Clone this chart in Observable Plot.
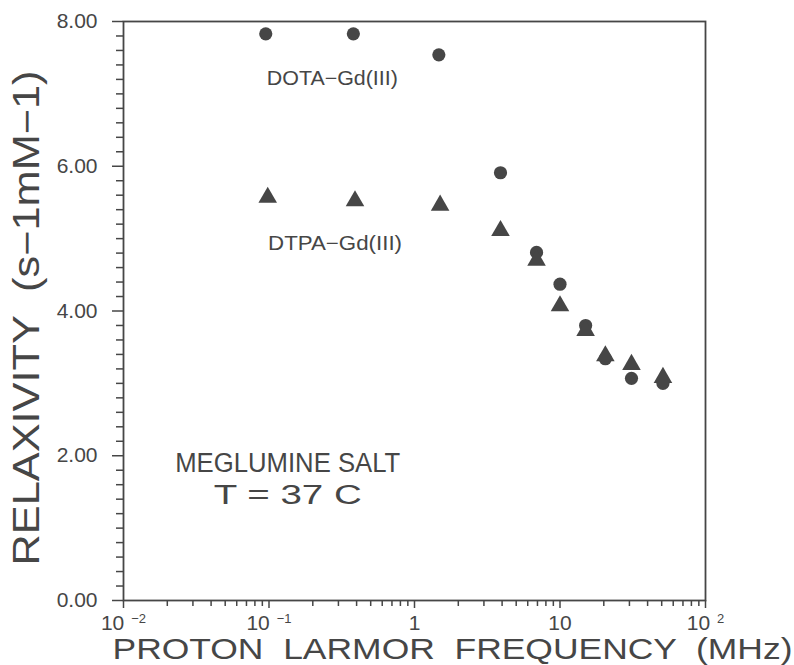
<!DOCTYPE html>
<html><head><meta charset="utf-8">
<script src="https://cdn.jsdelivr.net/npm/d3@7"></script>
<script src="https://cdn.jsdelivr.net/npm/@observablehq/plot@0.6"></script>
<style>body{margin:0;background:#fff}</style>
</head><body><div id="chart"></div>
<script>
// ---- data ----
const freqDOTA  = [0.095, 0.38, 1.47, 3.9, 6.9, 10, 15, 20.5, 31, 51];
const relaxDOTA = [7.83, 7.83, 7.54, 5.91, 4.81, 4.37, 3.80, 3.34, 3.07, 3.00];
const freqDTPA  = [0.098, 0.39, 1.50, 3.9, 6.9, 10, 15, 20.5, 31, 51];
const relaxDTPA = [5.57, 5.52, 5.46, 5.11, 4.70, 4.07, 3.73, 3.38, 3.26, 3.08];

const compoundLabels = ["DOTA−Gd(III)", "DTPA−Gd(III)"];
const compoundLabelX = [0.0966, 0.0985];
const compoundLabelY = [7.21, 4.93];

const conditionLines = ["MEGLUMINE SALT", "T = 37 C"];
const conditionX = [0.1345, 0.1345];
const conditionY = [1.90, 1.45];

const yMajorTicks = [0, 2, 4, 6, 8];
const yMinorTicks = d3.range(0, 80, 2).map(v => v / 10).filter(v => !yMajorTicks.includes(v));
const xMajorTicks = [0.01, 0.1, 1, 10, 100];
const xLabelBase = ["10", "10", "1", "10", "10"];
const xLabelExp  = ["−2", "−1", "", "", "2"];
const xMinorTicks = [0.01, 0.1, 1, 10].flatMap(d => [2,3,4,5,6,7,8,9].map(k => +(k * d).toPrecision(3)));

const xTitle = "PROTON  LARMOR  FREQUENCY  (MHz)";
const yTitle = "RELAXIVITY  (s−1mM−1)";

// ---- tables ----
const dota = freqDOTA.map((f, i) => ({f, r: relaxDOTA[i]}));
const dtpa = freqDTPA.map((f, i) => ({f, r: relaxDTPA[i]}));
const compounds = compoundLabels.map((t, i) => ({t, x: compoundLabelX[i], y: compoundLabelY[i]}));
const conditions = conditionLines.map((t, i) => ({t, x: conditionX[i], y: conditionY[i]}));

const ink = "#464646";
const font = "'Liberation Sans', Arial, sans-serif";

const chart = Plot.plot({
  width: 794,
  height: 665,
  marginLeft: 123,
  marginRight: 89,
  marginTop: 21,
  marginBottom: 65,
  style: {fontFamily: font, background: "#fff", color: ink},
  x: {type: "log", domain: [0.01, 100], label: null},
  y: {domain: [0, 8], label: null},
  marks: [
    Plot.frame({stroke: ink, strokeWidth: 1.8}),
    Plot.axisY({ticks: yMinorTicks, tickSize: 7, tickFormat: () => "", color: ink, strokeWidth: 1.5, label: null}),
    Plot.axisY({ticks: yMajorTicks, tickSize: 11, tickPadding: 15, tickFormat: d => d.toFixed(2),
                fontSize: 21, color: ink, strokeWidth: 1.5, label: null}),
    Plot.axisX({ticks: xMinorTicks, tickSize: 6, tickFormat: () => "", color: ink, strokeWidth: 1.5, label: null}),
    Plot.axisX({ticks: xMajorTicks, tickSize: 8, tickPadding: 7,
                tickFormat: d => { const i = xMajorTicks.indexOf(d); return xLabelBase[i] + (xLabelExp[i] ? "^" + xLabelExp[i] : ""); },
                fontSize: 21, color: ink, strokeWidth: 1.5, label: null}),
    Plot.dot(dota, {x: "f", y: "r", r: 6.6, symbol: "circle", fill: ink, stroke: "none"}),
    Plot.dot(dtpa, {x: "f", y: "r", r: 6.9, symbol: "triangle", fill: ink, stroke: "none"}),
    Plot.text(compounds, {x: "x", y: "y", text: "t", textAnchor: "start", fontSize: 20, fill: ink}),
    Plot.text(conditions, {x: "x", y: "y", text: "t", textAnchor: "middle", fontSize: 27, fill: ink}),
    Plot.text([xTitle], {text: d => d, frameAnchor: "bottom", textAnchor: "middle", lineAnchor: "middle",
                         dx: 38, dy: 49, fontSize: 30, fill: ink}),
    Plot.text([yTitle], {text: d => d, frameAnchor: "left", textAnchor: "middle", lineAnchor: "middle",
                         rotate: -90, dx: -96, dy: 7, fontSize: 36, fill: ink})
  ]
});

// fit text widths to the reference
const fitWidths = new Map([
  [xTitle, 680], [yTitle, 495],
  ["DOTA−Gd(III)", 131], ["DTPA−Gd(III)", 134],
  ["MEGLUMINE SALT", 225], ["T = 37 C", 148]
]);
chart.querySelectorAll("text").forEach(t => {
  const s = t.textContent;
  const w = fitWidths.get(s);
  if (w) { t.setAttribute("textLength", w); t.setAttribute("lengthAdjust", "spacingAndGlyphs"); }
  if (s.includes("^")) {
    const [base, exp] = s.split("^");
    t.textContent = base;
    const ts = document.createElementNS("http://www.w3.org/2000/svg", "tspan");
    ts.setAttribute("dx", "7");
    ts.setAttribute("dy", "-7");
    ts.setAttribute("font-size", "13");
    ts.textContent = exp;
    t.appendChild(ts);
  }
});

document.getElementById("chart").appendChild(chart);
</script>
</body></html>
